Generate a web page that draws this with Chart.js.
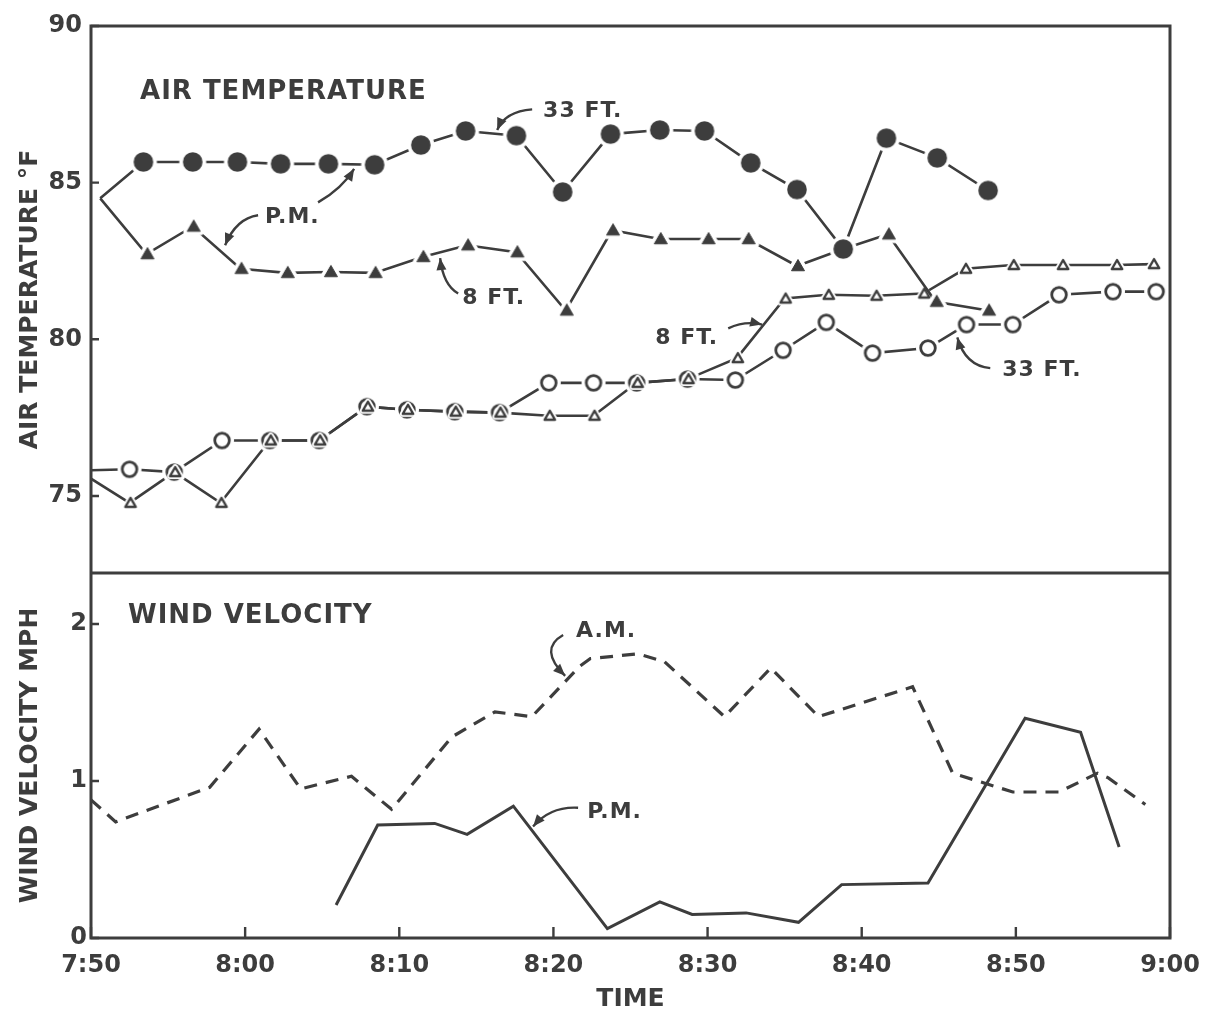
<!DOCTYPE html>
<html>
<head>
<meta charset="utf-8">
<script src="https://cdn.jsdelivr.net/npm/chart.js@4.4.1/dist/chart.umd.min.js"></script>
<style>
html, body { margin: 0; padding: 0; background: #fff; }
#wrap { width: 1217px; height: 1013px; position: relative; }
</style>
</head>
<body>
<div id="wrap"><canvas id="chart" width="1217" height="1013"></canvas></div>
<script>
'use strict';

// times are minutes after 7:00
var xTickValues = [50, 60, 70, 80, 90, 100, 110, 120];
var xTickLabels = ['7:50', '8:00', '8:10', '8:20', '8:30', '8:40', '8:50', '9:00'];
var tempTicks = [75, 80, 85, 90];
var windTicks = [0, 1, 2];

// air temperature, P.M., 33 ft (filled circles)
var pm33Time = [50.6, 53.4, 56.6, 59.5, 62.3, 65.4, 68.4, 71.4, 74.3, 77.6, 80.6, 83.7, 86.9, 89.8, 92.8, 95.8, 98.8, 101.6, 104.9, 108.2];
var pm33Temp = [84.5, 85.66, 85.66, 85.66, 85.6, 85.6, 85.57, 86.2, 86.65, 86.5, 84.7, 86.55, 86.68, 86.65, 85.63, 84.78, 82.88, 86.42, 85.79, 84.75];

// air temperature, P.M., 8 ft (filled triangles)
var pm8Time = [50.6, 53.6, 56.6, 59.7, 62.7, 65.5, 68.4, 71.5, 74.4, 77.6, 80.8, 83.8, 86.9, 90.0, 92.6, 95.8, 98.8, 101.7, 104.8, 108.2];
var pm8Temp = [84.5, 82.72, 83.6, 82.25, 82.12, 82.15, 82.12, 82.63, 83.0, 82.78, 80.92, 83.48, 83.2, 83.2, 83.2, 82.34, 82.88, 83.35, 81.2, 80.92];

// air temperature, A.M., 33 ft (open circles)
var am33Time = [50.0, 52.5, 55.4, 58.5, 61.6, 64.8, 67.9, 70.5, 73.6, 76.5, 79.7, 82.6, 85.4, 88.7, 91.8, 94.9, 97.7, 100.7, 104.3, 106.8, 109.8, 112.8, 116.3, 119.1];
var am33Temp = [75.82, 75.85, 75.76, 76.77, 76.77, 76.77, 77.85, 77.75, 77.69, 77.66, 78.61, 78.61, 78.61, 78.73, 78.7, 79.65, 80.54, 79.56, 79.72, 80.47, 80.47, 81.42, 81.52, 81.52];

// air temperature, A.M., 8 ft (open triangles)
var am8Time = [50.0, 52.5, 55.4, 58.4, 61.6, 64.8, 67.9, 70.5, 73.6, 76.5, 79.7, 82.6, 85.4, 88.7, 91.9, 95.0, 97.8, 100.9, 104.0, 106.7, 109.8, 113.0, 116.5, 118.9];
var am8Temp = [75.55, 74.78, 75.76, 74.78, 76.77, 76.77, 77.85, 77.75, 77.69, 77.66, 77.56, 77.56, 78.61, 78.73, 79.4, 81.3, 81.42, 81.39, 81.46, 82.25, 82.37, 82.37, 82.37, 82.4];

// wind velocity, mph
var amWindTime = [50.0, 51.6, 57.7, 60.9, 63.6, 66.9, 69.5, 73.4, 76.2, 78.6, 81.7, 82.4, 85.5, 87.2, 91.1, 94.1, 97.2, 103.3, 105.9, 109.8, 112.8, 115.3, 116.0, 118.4];
var amWind = [0.88, 0.74, 0.96, 1.33, 0.95, 1.03, 0.82, 1.28, 1.44, 1.41, 1.73, 1.78, 1.81, 1.76, 1.41, 1.72, 1.41, 1.6, 1.05, 0.93, 0.93, 1.05, 1.02, 0.85];
var pmWindTime = [65.9, 68.6, 72.3, 74.4, 77.4, 83.5, 86.9, 89.0, 92.5, 95.9, 98.7, 104.3, 110.6, 114.2, 116.7];
var pmWind = [0.21, 0.72, 0.73, 0.66, 0.84, 0.06, 0.23, 0.15, 0.16, 0.10, 0.34, 0.35, 1.40, 1.31, 0.58];

var INK = '#3d3d3d';
var FONT = '"DejaVu Sans", sans-serif';

// text notes and arrows, placed in data units (t, value) on a given axis
var notes = [
    { text: 'AIR TEMPERATURE', axis: 'yT', t: 53.18, v: 87.9, size: 26 },
    { text: 'WIND VELOCITY', axis: 'yW', t: 52.4, v: 2.05, size: 26 },
    { text: '33 FT.', axis: 'yT', t: 79.33, v: 87.28, size: 22 },
    { text: 'P.M.', axis: 'yT', t: 61.29, v: 83.89, size: 22 },
    { text: '8 FT.', axis: 'yT', t: 74.08, v: 81.3, size: 22 },
    { text: '8 FT.', axis: 'yT', t: 86.6, v: 80.03, size: 22 },
    { text: '33 FT.', axis: 'yT', t: 109.12, v: 79.02, size: 22 },
    { text: 'A.M.', axis: 'yW', t: 81.47, v: 1.955, size: 22 },
    { text: 'P.M.', axis: 'yW', t: 82.19, v: 0.8, size: 22 }
];
var arrows = [
    { axis: 'yT', p: [[78.62, 87.34], [76.87, 87.28], [76.35, 86.68]] },
    { axis: 'yT', p: [[60.84, 83.96], [59.41, 83.86], [58.7, 83.0]] },
    { axis: 'yT', p: [[64.73, 84.37], [66.29, 84.81], [67.07, 85.44]] },
    { axis: 'yT', p: [[73.82, 81.46], [72.84, 81.74], [72.65, 82.59]] },
    { axis: 'yT', p: [[91.34, 80.35], [92.44, 80.6], [93.54, 80.47]] },
    { axis: 'yT', p: [[108.34, 79.08], [106.72, 79.15], [106.2, 80.06]] },
    { axis: 'yW', p: [[80.63, 1.93], [79.01, 1.84], [80.76, 1.67]] },
    { axis: 'yW', p: [[81.6, 0.83], [79.79, 0.84], [78.68, 0.71]] }
];

function pts(xs, ys) {
    return xs.map(function(x, i) { return { x: x, y: ys[i] }; });
}
function noFirst(r) {
    return function(c) { return c.dataIndex === 0 ? 0 : r; };
}

// hand-drawn style marks: each one carries a white rim, so lines stop short of it
function mark(size, paint) {
    var c = document.createElement('canvas');
    c.width = size; c.height = size;
    var g = c.getContext('2d');
    paint(g, size / 2);
    return c;
}
function triPath(g, c, r) {
    g.beginPath();
    g.moveTo(c, c - r);
    g.lineTo(c + r * 0.866, c + r * 0.5);
    g.lineTo(c - r * 0.866, c + r * 0.5);
    g.closePath();
}
var dotMark = mark(30, function(g, c) {
    g.fillStyle = '#fff'; g.beginPath(); g.arc(c, c, 13.5, 0, 2 * Math.PI); g.fill();
    g.fillStyle = INK; g.beginPath(); g.arc(c, c, 9.8, 0, 2 * Math.PI); g.fill();
});
var ringMark = mark(28, function(g, c) {
    g.fillStyle = '#fff'; g.beginPath(); g.arc(c, c, 12, 0, 2 * Math.PI); g.fill();
    g.strokeStyle = INK; g.lineWidth = 2.8; g.beginPath(); g.arc(c, c, 7.3, 0, 2 * Math.PI); g.stroke();
});
var solidTri = mark(28, function(g, c) {
    g.lineJoin = 'round';
    triPath(g, c + 1, 7.5);
    g.strokeStyle = '#fff'; g.lineWidth = 8; g.stroke();
    g.fillStyle = INK; g.fill();
    g.strokeStyle = INK; g.lineWidth = 1; g.stroke();
});
var hollowTri = mark(24, function(g, c) {
    g.lineJoin = 'round';
    triPath(g, c + 1, 6);
    g.strokeStyle = '#fff'; g.lineWidth = 6; g.stroke();
    g.fillStyle = '#fff'; g.fill();
    g.strokeStyle = INK; g.lineWidth = 2.4; g.stroke();
});

var framePlugin = {
    id: 'frame',
    afterDatasetsDraw: function(chart) {
        var ctx = chart.ctx, sx = chart.scales.x;
        ctx.save();
        ctx.fillStyle = INK;
        ctx.strokeStyle = INK;
        ctx.textBaseline = 'middle';
        ctx.textAlign = 'left';
        notes.forEach(function(n) {
            var sy = chart.scales[n.axis];
            ctx.font = 'bold ' + n.size + 'px ' + FONT;
            ctx.letterSpacing = '1px';
            ctx.fillText(n.text, sx.getPixelForValue(n.t), sy.getPixelForValue(n.v));
        });
        ctx.lineWidth = 2.4;
        arrows.forEach(function(a) {
            var sy = chart.scales[a.axis];
            var p = a.p.map(function(q) { return [sx.getPixelForValue(q[0]), sy.getPixelForValue(q[1])]; });
            ctx.beginPath();
            ctx.moveTo(p[0][0], p[0][1]);
            ctx.quadraticCurveTo(p[1][0], p[1][1], p[2][0], p[2][1]);
            ctx.stroke();
            var ang = Math.atan2(p[2][1] - p[1][1], p[2][0] - p[1][0]);
            ctx.beginPath();
            ctx.moveTo(p[2][0], p[2][1]);
            ctx.lineTo(p[2][0] - 12 * Math.cos(ang) + 5 * Math.sin(ang), p[2][1] - 12 * Math.sin(ang) - 5 * Math.cos(ang));
            ctx.lineTo(p[2][0] - 12 * Math.cos(ang) - 5 * Math.sin(ang), p[2][1] - 12 * Math.sin(ang) + 5 * Math.cos(ang));
            ctx.closePath();
            ctx.fill();
        });
        ctx.restore();
    },
    afterDraw: function(chart) {
        var ctx = chart.ctx, a = chart.chartArea;
        var sx = chart.scales.x, yT = chart.scales.yT, yW = chart.scales.yW;
        ctx.save();
        ctx.strokeStyle = INK;
        ctx.lineWidth = 3;
        ctx.strokeRect(a.left, a.top, a.right - a.left, a.bottom - a.top);
        ctx.beginPath();
        ctx.moveTo(a.left, yT.bottom);
        ctx.lineTo(a.right, yT.bottom);
        ctx.stroke();
        ctx.lineWidth = 2.4;
        ctx.beginPath();
        tempTicks.forEach(function(v) {
            var y = yT.getPixelForValue(v);
            ctx.moveTo(a.left, y); ctx.lineTo(a.left + 8, y);
        });
        windTicks.forEach(function(v) {
            var y = yW.getPixelForValue(v);
            ctx.moveTo(a.left, y); ctx.lineTo(a.left + 8, y);
        });
        xTickValues.forEach(function(v) {
            var x = sx.getPixelForValue(v);
            ctx.moveTo(x, a.bottom); ctx.lineTo(x, a.bottom - 11);
        });
        ctx.stroke();
        ctx.restore();
    }
};

var tickFont = { family: FONT, size: 24, weight: 'bold' };
var titleFont = { family: FONT, size: 25, weight: 'bold', lineHeight: 1 };

new Chart(document.getElementById('chart'), {
    type: 'line',
    data: {
        datasets: [
            {
                label: 'P.M. 33 ft', yAxisID: 'yT', order: 1, data: pts(pm33Time, pm33Temp),
                borderColor: INK, borderWidth: 2.6, pointStyle: dotMark, pointRadius: noFirst(9)
            },
            {
                label: 'P.M. 8 ft', yAxisID: 'yT', order: 2, data: pts(pm8Time, pm8Temp),
                borderColor: INK, borderWidth: 2.6, pointStyle: solidTri, pointRadius: noFirst(7)
            },
            {
                label: 'A.M. 8 ft marks', yAxisID: 'yT', order: 3, data: pts(am8Time, am8Temp),
                showLine: false, pointStyle: hollowTri, pointRadius: noFirst(6)
            },
            {
                label: 'A.M. 33 ft', yAxisID: 'yT', order: 4, data: pts(am33Time, am33Temp),
                borderColor: INK, borderWidth: 2.6, pointStyle: ringMark, pointRadius: noFirst(8)
            },
            {
                label: 'A.M. 8 ft', yAxisID: 'yT', order: 5, data: pts(am8Time, am8Temp),
                borderColor: INK, borderWidth: 2.6, pointRadius: 0
            },
            {
                label: 'A.M. wind', yAxisID: 'yW', order: 6, data: pts(amWindTime, amWind),
                borderColor: INK, borderWidth: 3.2, borderDash: [13, 9], pointRadius: 0
            },
            {
                label: 'P.M. wind', yAxisID: 'yW', order: 7, data: pts(pmWindTime, pmWind),
                borderColor: INK, borderWidth: 3, pointRadius: 0
            }
        ]
    },
    options: {
        responsive: false,
        animation: false,
        layout: { padding: { left: 0, right: 47, top: 26, bottom: 0 } },
        plugins: { legend: { display: false }, tooltip: { enabled: false } },
        elements: { line: { tension: 0 } },
        scales: {
            x: {
                type: 'linear', min: 50, max: 120,
                afterBuildTicks: function(s) { s.ticks = xTickValues.map(function(v) { return { value: v }; }); },
                afterFit: function(s) { s.height = 75; },
                grid: { display: false, drawTicks: false },
                border: { display: false },
                ticks: {
                    color: INK, font: tickFont, padding: 13, maxRotation: 0, autoSkip: false,
                    callback: function(v, i) { return xTickLabels[i]; }
                },
                title: { display: true, text: 'TIME', color: INK, font: titleFont, padding: { top: 0, bottom: 1 } }
            },
            yT: {
                type: 'linear', position: 'left', stack: 'panels', stackWeight: 547, weight: 1,
                min: 72.54, max: 90,
                afterBuildTicks: function(s) { s.ticks = tempTicks.map(function(v) { return { value: v }; }); },
                afterFit: function(s) { s.width = 91; },
                grid: { display: false, drawTicks: false },
                border: { display: false },
                ticks: { color: INK, font: tickFont, padding: 9 },
                title: { display: true, text: 'AIR TEMPERATURE °F', color: INK, font: titleFont, padding: { top: 18, bottom: 0 } }
            },
            yW: {
                type: 'linear', position: 'left', stack: 'panels', stackWeight: 365, weight: 0,
                min: 0, max: 2.325,
                afterBuildTicks: function(s) { s.ticks = windTicks.map(function(v) { return { value: v }; }); },
                afterFit: function(s) { s.width = 91; },
                grid: { display: false, drawTicks: false },
                border: { display: false },
                ticks: { color: INK, font: tickFont, padding: 4 },
                title: { display: true, text: 'WIND VELOCITY MPH', color: INK, font: titleFont, padding: { top: 18, bottom: 0 } }
            }
        }
    },
    plugins: [framePlugin]
});
</script>
</body>
</html>
